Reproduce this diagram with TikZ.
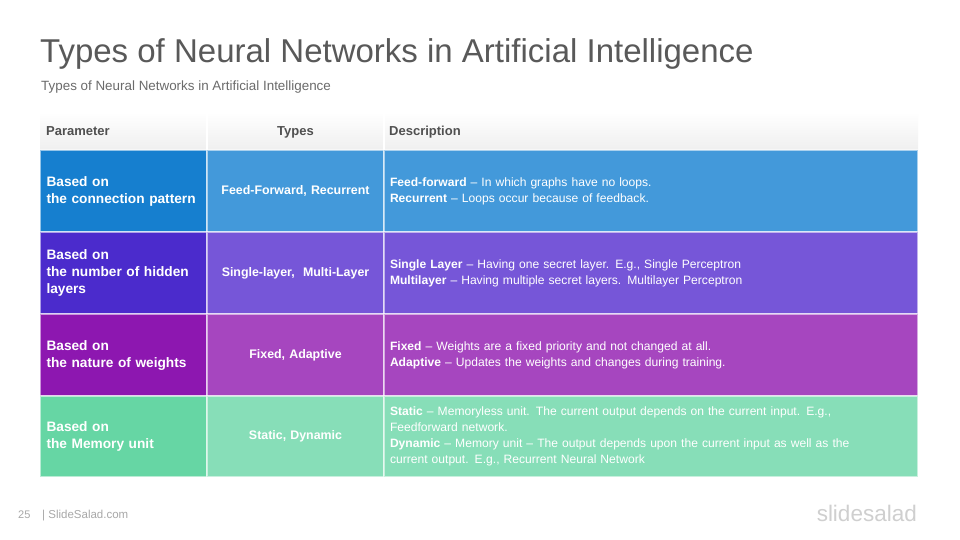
\documentclass[tikz,border=0pt]{standalone}
\usepackage{fontspec}
\setmainfont{Liberation Sans}
\usetikzlibrary{positioning}
\definecolor{titlegrey}{HTML}{595959}
\definecolor{subgrey}{HTML}{6B6B6B}
\definecolor{headgrey}{HTML}{EFEFEF}
\definecolor{headtext}{HTML}{505050}
\definecolor{footgrey}{HTML}{A8A8A8}
\definecolor{logogrey}{HTML}{CFCFCF}
\definecolor{blueA}{HTML}{167FCF}
\definecolor{blueB}{HTML}{4399DA}
\definecolor{violetA}{HTML}{4B2BCC}
\definecolor{violetB}{HTML}{7656D8}
\definecolor{purpleA}{HTML}{8D17B0}
\definecolor{purpleB}{HTML}{A646BF}
\definecolor{greenA}{HTML}{66D6A4}
\definecolor{greenB}{HTML}{87DEB8}
\tikzset{
  cell/.style={draw=white, draw opacity=0.55, line width=1.2pt, outer sep=0pt,
    minimum height=82pt, text=white, anchor=north west},
  param/.style={cell, minimum width=167pt, text width=154pt, align=left,
    font=\fontsize{13.7}{17}\selectfont\bfseries},
  kind/.style={cell, minimum width=177pt, text width=166pt, align=center,
    font=\fontsize{12.4}{15}\selectfont\bfseries},
  desc/.style={cell, minimum width=534pt, text width=522pt, align=left,
    font=\fontsize{12.1}{16}\selectfont},
  head/.style={text=headtext, inner sep=0pt, font=\fontsize{13}{15}\selectfont\bfseries},
}

\begin{document}
\begin{tikzpicture}[x=1pt, y=1pt]
  \useasboundingbox[fill=white] (0,0) rectangle (960,-540);

  % title
  \node[anchor=base west, inner sep=0pt, text=titlegrey,
    font=\fontsize{33}{38}\selectfont] (title) at (40,-63)
    {Types of Neural Networks in Artificial Intelligence};
  \node[anchor=base west, inner sep=0pt, text=subgrey,
    font=\fontsize{13.4}{15}\selectfont] (subtitle) at (41,-91)
    {Types of Neural Networks in Artificial Intelligence};

  % header row
  \node[anchor=north west, minimum width=878pt, minimum height=38pt,
    outer sep=0pt, top color=white, bottom color=headgrey] (header) at (40,-112) {};
  \draw[white, line width=1.2pt] (207,-112) -- (207,-150);
  \draw[white, line width=1.2pt] (384,-112) -- (384,-150);
  \node[head, anchor=base west] (hpar) at (46,-136) {Parameter};
  \node[head, anchor=base] (htyp) at (295.5,-136) {Types};
  \node[head, anchor=base west] (hdesc) at (389,-136) {Description};

  % rows
  \node[param, fill=blueA] (p1) at (40,-150) {Based on\\the connection pattern};
  \node[kind, fill=blueB, right=0pt of p1] (t1) {Feed-Forward, Recurrent};
  \node[desc, fill=blueB, right=0pt of t1] (d1)
    {\textbf{Feed-forward} – In which graphs have no loops.\\
     \textbf{Recurrent} – Loops occur because of feedback.};

  \node[param, fill=violetA, below=0pt of p1] (p2) {Based on\\the number of hidden\\layers};
  \node[kind, fill=violetB, right=0pt of p2] (t2) {Single-layer,\ \ Multi-Layer};
  \node[desc, fill=violetB, right=0pt of t2] (d2)
    {\textbf{Single Layer} – Having one secret layer. E.g., Single Perceptron\\
     \textbf{Multilayer} – Having multiple secret layers. Multilayer Perceptron};

  \node[param, fill=purpleA, below=0pt of p2] (p3) {Based on\\the nature of weights};
  \node[kind, fill=purpleB, right=0pt of p3] (t3) {Fixed, Adaptive};
  \node[desc, fill=purpleB, right=0pt of t3] (d3)
    {\textbf{Fixed} – Weights are a fixed priority and not changed at all.\\
     \textbf{Adaptive} – Updates the weights and changes during training.};

  \node[param, fill=greenA, below=0pt of p3, minimum height=81pt] (p4) {Based on\\the Memory unit};
  \node[kind, fill=greenB, right=0pt of p4, minimum height=81pt] (t4) {Static, Dynamic};
  \node[desc, fill=greenB, right=0pt of t4, minimum height=81pt] (d4)
    {\textbf{Static} – Memoryless unit. The current output depends on the current input. E.g.,\\
     Feedforward network.\\
     \textbf{Dynamic} – Memory unit – The output depends upon the current input as well as the\\
     current output. E.g., Recurrent Neural Network};

  % footer
  \node[anchor=base west, inner sep=0pt, text=footgrey,
    font=\fontsize{11}{13}\selectfont] (page) at (18,-518) {25};
  \node[anchor=base west, inner sep=0pt, text=footgrey,
    font=\fontsize{11.5}{13}\selectfont] (site) at (42,-518) {|\ SlideSalad.com};
  \node[anchor=base east, inner sep=0pt, text=logogrey,
    font=\fontsize{22.5}{26}\selectfont] (logo) at (917,-521) {slidesalad};
\end{tikzpicture}
\end{document}
